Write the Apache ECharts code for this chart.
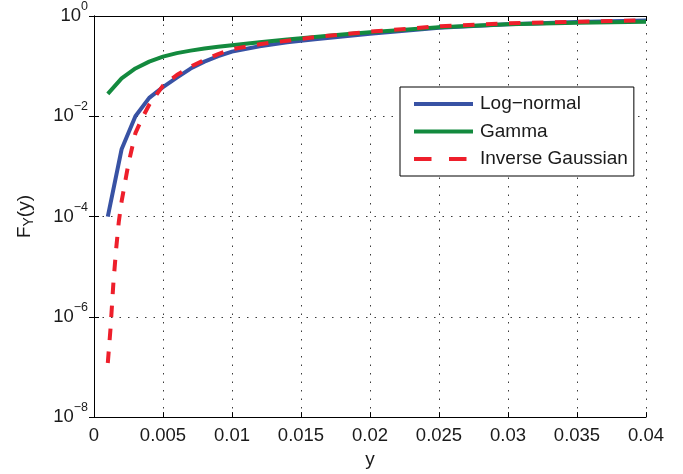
<!DOCTYPE html>
<html>
<head>
<meta charset="utf-8">
<script src="https://cdn.jsdelivr.net/npm/echarts@6/dist/echarts.min.js"></script>
<style>
html,body{margin:0;padding:0;background:#fff;}
#chart{width:683px;height:474px;}
</style>
</head>
<body>
<div id="chart"></div>
<script>
// ---- data ----
const xCommon = [0.001,0.002,0.003,0.004,0.005,0.006,0.007,0.008,0.009,0.010,0.012,0.014,0.016,0.018,0.020,0.025,0.030,0.035,0.040];
const logNormal = [1.0e-4,2.2e-3,1.0e-2,0.0233,0.038,0.059,0.0895,0.123,0.158,0.195,0.25,0.298,0.345,0.392,0.443,0.583,0.684,0.76,0.815];
const gammaVals = [0.028,0.057,0.090,0.123,0.155,0.182,0.204,0.224,0.243,0.262,0.301,0.340,0.381,0.428,0.475,0.597,0.684,0.732,0.77];
const xInvGauss = [0.001,0.0012,0.0014,0.0016,0.0018,0.002,0.0025,0.003,0.0035,0.004,0.005,0.006,0.007,0.008,0.009,0.010,0.012,0.014,0.016,0.018,0.020,0.025,0.030,0.035,0.040];
const invGauss = [1.2e-7,6e-7,4.5e-6,2.2e-5,8e-5,2e-4,1.15e-3,4.6e-3,9.3e-3,0.017,0.041,0.0665,0.098,0.132,0.174,0.218,0.274,0.322,0.378,0.43,0.486,0.625,0.716,0.77,0.82];
const xTickValues = [0,0.005,0.01,0.015,0.02,0.025,0.03,0.035,0.04];
const yTickValues = [1e-8,1e-6,1e-4,1e-2,1];
const seriesNames = ['Log\u2212normal','Gamma','Inverse Gaussian'];

const font = 'Liberation Sans, Arial, Helvetica, sans-serif';
const txt = '#1a1a1a';
const gridLine = {show:true, lineStyle:{color:'#3a3a3a', width:1, type:[1.5,7]}};
const redDash = [11.5,11.5];
const legendRedDash = [17.5,17.5];

function pairs(xs, ys){ return xs.map((x,i)=>[x, ys[i]]); }

const chart = echarts.init(document.getElementById('chart'), null, {renderer:'canvas'});
const option = {
  animation:false,
  backgroundColor:'#fff',
  grid:{left:94, right:37, top:16, bottom:54, containLabel:false},
  xAxis:[{
    type:'value', min:0, max:0.04, interval:0.005,
    name:'y', nameLocation:'middle', nameGap:31,
    nameTextStyle:{fontFamily:font, fontSize:19, color:txt},
    axisLine:{show:true, lineStyle:{color:'#000', width:1}},
    axisTick:{show:true, inside:true, length:5, lineStyle:{color:'#000'}, customValues:xTickValues},
    axisLabel:{margin:9, fontFamily:font, fontSize:18.5, color:txt, customValues:xTickValues,
      formatter:v=>String(parseFloat(Number(v).toFixed(4)))},
    splitLine:gridLine
  },{
    type:'value', min:0, max:0.04, interval:0.005, position:'top',
    axisLine:{show:true, lineStyle:{color:'#000', width:1}},
    axisTick:{show:true, inside:true, length:5, lineStyle:{color:'#000'}},
    axisLabel:{show:false}, splitLine:{show:false}
  }],
  yAxis:[{
    type:'log', logBase:10, min:1e-8, max:1, interval:2,
    name:'{a|F}{b|Y}{a|(y)}', nameLocation:'middle', nameGap:58, nameRotate:90,
    nameTextStyle:{fontFamily:font, color:txt,
      rich:{a:{fontFamily:font, fontSize:19, color:txt}, b:{fontFamily:font, fontSize:14, color:txt, padding:[8,0,0,0]}}},
    axisLine:{show:true, lineStyle:{color:'#000', width:1}},
    axisTick:{show:true, inside:true, length:5, lineStyle:{color:'#000'}, customValues:yTickValues},
    axisLabel:{margin:6, customValues:yTickValues,
      formatter:v=>{const e=Math.round(Math.log10(v)); return '{b|10}{s|'+(e<0?'\u2212'+(-e):String(e))+'}';},
      rich:{b:{fontFamily:font, fontSize:18.5, color:txt}, s:{fontFamily:font, fontSize:12.5, color:txt, padding:[0,0,19,0]}}},
    splitLine:gridLine
  },{
    type:'log', logBase:10, min:1e-8, max:1, interval:2, position:'right',
    axisLine:{show:true, lineStyle:{color:'#000', width:1}},
    axisTick:{show:true, inside:true, length:5, lineStyle:{color:'#000'}, customValues:yTickValues},
    axisLabel:{show:false}, splitLine:{show:false}
  }],
  legend:{
    orient:'vertical', left:400, top:87,
    padding:[7,6,7,12], itemWidth:59, itemHeight:14, itemGap:7.5,
    backgroundColor:'#fff', borderColor:'#000', borderWidth:1, borderRadius:0,
    itemStyle:{opacity:0, color:'rgba(0,0,0,0)', borderWidth:0},
    lineStyle:{width:4},
    textStyle:{fontFamily:font, fontSize:19, color:txt, lineHeight:20, padding:[0,0,0,2]},
    data:[
      {name:seriesNames[0]},
      {name:seriesNames[1]},
      {name:seriesNames[2], lineStyle:{width:4, type:legendRedDash, dashOffset:0, cap:'butt'}}
    ]
  },
  series:[
    {name:seriesNames[0], type:'line', symbol:'none', data:pairs(xCommon, logNormal),
     lineStyle:{color:'#3852a4', width:4}, itemStyle:{color:'#3852a4'}, z:2},
    {name:seriesNames[1], type:'line', symbol:'none', data:pairs(xCommon, gammaVals),
     lineStyle:{color:'#138a3e', width:4}, itemStyle:{color:'#138a3e'}, z:3},
    {name:seriesNames[2], type:'line', symbol:'none', data:pairs(xInvGauss, invGauss),
     lineStyle:{color:'#ee1f2b', width:4, type:redDash, cap:'butt'}, itemStyle:{color:'#ee1f2b'}, z:4}
  ]
};
chart.setOption(option);
</script>
</body>
</html>
